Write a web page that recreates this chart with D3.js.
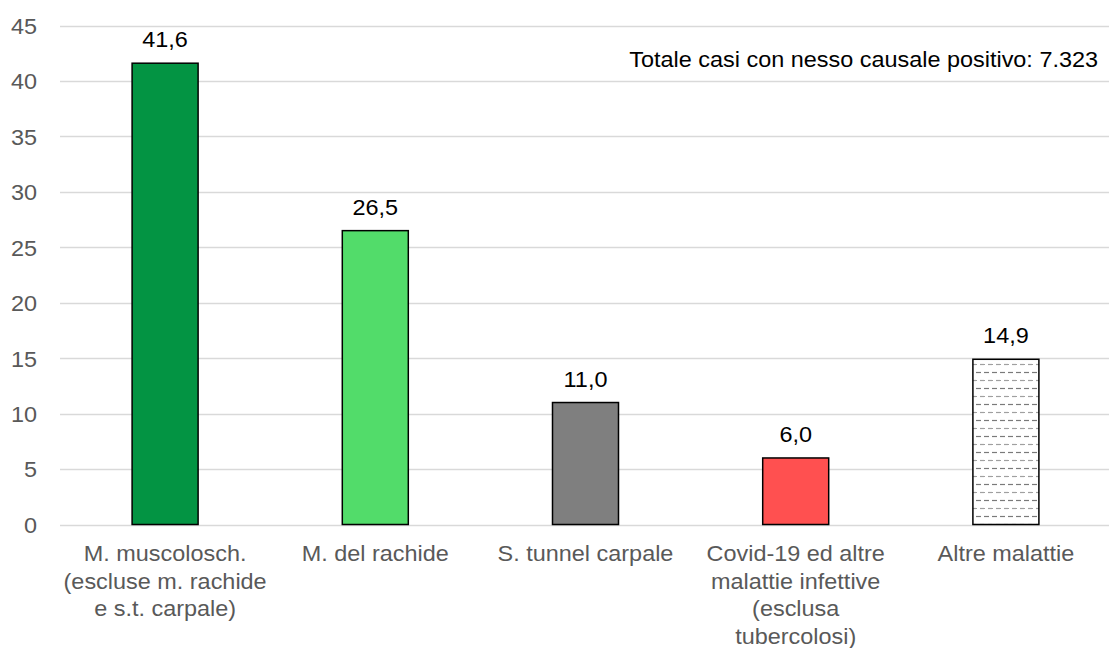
<!DOCTYPE html>
<html><head><meta charset="utf-8">
<script src="https://cdn.jsdelivr.net/npm/d3@7"></script>
<style>body{margin:0;background:#fff;} svg{display:block;font-family:Arial,"Liberation Sans",sans-serif;}</style>
</head><body>
<svg id="c" width="1109" height="648"></svg>
<script>
const categories = [
  ["M. muscolosch.", "(escluse m. rachide", "e s.t. carpale)"],
  ["M. del rachide"],
  ["S. tunnel carpale"],
  ["Covid-19 ed altre", "malattie infettive", "(esclusa", "tubercolosi)"],
  ["Altre malattie"]
];
const values = [41.6, 26.5, 11.0, 6.0, 14.9];
const colors = ["#039443", "#52DC6A", "#7F7F7F", "#FF5050", "url(#dash)"];
const yTicks = [0, 5, 10, 15, 20, 25, 30, 35, 40, 45];
const note = "Totale casi con nesso causale positivo: 7.323";

const FS = 22, SX = 1.065;
const svg = d3.select("#c");
const defs = svg.append("defs");
const pat = defs.append("pattern").attr("id", "dash").attr("patternUnits", "userSpaceOnUse")
  .attr("width", 8).attr("height", 16).attr("x", 0).attr("y", 0);
pat.append("rect").attr("width", 8).attr("height", 16).attr("fill", "#fff");
pat.append("line").attr("x1", 0).attr("x2", 5).attr("y1", 4.5).attr("y2", 4.5).attr("stroke", "#7a7a7a").attr("stroke-width", 1.2);
pat.append("line").attr("x1", 4).attr("x2", 9).attr("y1", 12.5).attr("y2", 12.5).attr("stroke", "#a0a0a0").attr("stroke-width", 1.2);
pat.append("line").attr("x1", -4).attr("x2", 1).attr("y1", 12.5).attr("y2", 12.5).attr("stroke", "#a0a0a0").attr("stroke-width", 1.2);

const x = d3.scaleBand().domain(d3.range(values.length)).range([60, 1111]).paddingInner(0.686).paddingOuter(0.343);
const y = d3.scaleLinear().domain([0, 45]).range([524.5, 25.5]);

// gridlines
svg.append("g").selectAll("line").data(yTicks).join("line")
  .attr("x1", 60).attr("x2", 1109)
  .attr("y1", d => Math.round(y(d)) + 0.5).attr("y2", d => Math.round(y(d)) + 0.5)
  .attr("stroke", "#d9d9d9").attr("stroke-width", 1.3);

// y axis labels
const yAxis = d3.axisLeft(y).tickValues(yTicks).tickSize(0).tickPadding(0).tickFormat(d3.format("d"));
const ga = svg.append("g").attr("transform", "translate(37,0)").call(yAxis);
ga.select(".domain").remove();
ga.selectAll("text").attr("font-size", FS).attr("fill", "#595959")
  .attr("font-family", "Arial, 'Liberation Sans', sans-serif")
  .attr("x", 0).attr("dy", "0.36em").attr("transform", `scale(${SX},1)`);

// bars
svg.append("g").selectAll("rect").data(values).join("rect")
  .attr("x", (d, i) => x(i)).attr("width", x.bandwidth())
  .attr("y", d => y(d)).attr("height", d => y(0) - y(d))
  .attr("fill", (d, i) => colors[i]).attr("stroke", "#000").attr("stroke-width", 1.5);

// value labels
const fmt = d => d.toFixed(1).replace(".", ",");
svg.append("g").selectAll("text").data(values).join("text")
  .attr("transform", (d, i) => `translate(${x(i) + x.bandwidth() / 2},${y(d) - 16}) scale(${SX},1)`)
  .attr("text-anchor", "middle").attr("font-size", FS).attr("fill", "#000").text(fmt);

// category labels
const cg = svg.append("g").selectAll("text").data(categories).join("text")
  .attr("transform", (d, i) => `translate(${x(i) + x.bandwidth() / 2},561) scale(${SX},1)`)
  .attr("text-anchor", "middle").attr("font-size", FS).attr("fill", "#595959");
cg.each(function(lines) {
  d3.select(this).selectAll("tspan").data(lines).join("tspan")
    .attr("x", 0).attr("y", (l, j) => j * 27.6).text(l => l);
});

// note
svg.append("text").attr("transform", `translate(1098,67) scale(${SX},1)`).attr("text-anchor", "end")
  .attr("font-size", FS).attr("fill", "#000").text(note);
</script>
</body></html>
